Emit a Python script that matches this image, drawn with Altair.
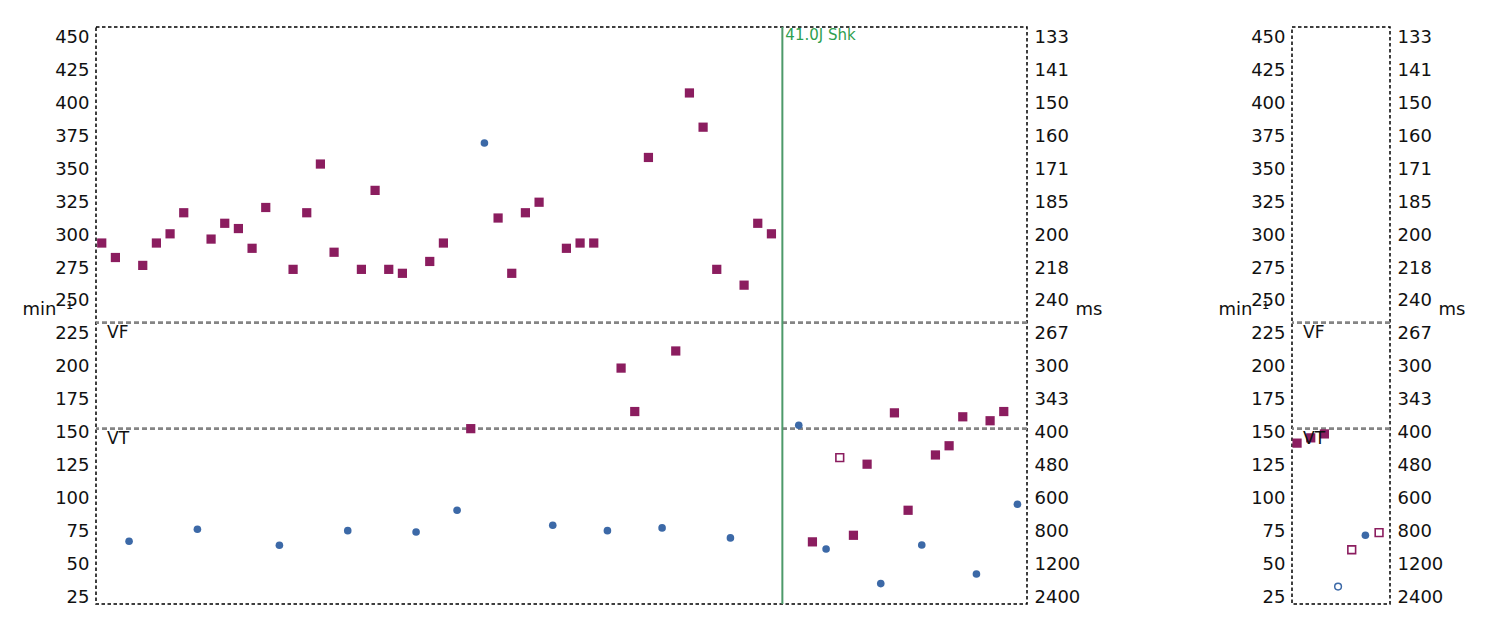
import altair as alt
import pandas as pd

FONT = "DejaVu Sans"
PURPLE = "#8b1d5f"
BLUE = "#3c69a7"
GRAY = "#858585"

rate_ticks = list(range(25, 451, 25))
y_domain = [19.8, 458.1]

# thresholds
thr_names = ["VF", "VT"]
thr_rates = [233.5, 153.0]

# shock
shock_idx = 49.8
shock_label = "41.0J Shk"

# ---- left panel (episode) ----
L_sq_idx = [0, 1, 3, 4, 5, 6, 8, 9, 10, 11, 12, 14, 15, 16, 17, 19, 20, 21, 22, 24, 25,
            27, 29, 30, 31, 32, 34, 35, 36, 38, 39, 40, 42, 43, 44, 45, 47, 48, 49,
            52, 55, 56, 58, 59, 61, 62, 63, 65, 66]
L_sq_rate = [294, 283, 277, 294, 301, 317, 297, 309, 305, 290, 321, 274, 317, 354, 287, 274, 334, 274, 271, 280, 294,
             153, 313, 271, 317, 325, 290, 294, 294, 199, 166, 359, 212, 408, 382, 274, 262, 309, 301,
             67, 72, 126, 165, 91, 133, 140, 162, 159, 166]
L_ci_idx = [2, 7, 13, 18, 23, 26, 28, 33, 37, 41, 46, 51, 53, 57, 60, 64, 67]
L_ci_rate = [67.5, 76.6, 64.4, 75.5, 74.5, 91, 370, 79.6, 75.5, 77.6, 70, 155.6, 61.6, 35.3, 64.6, 42.6, 95.6]
L_osq_idx = [54]
L_osq_rate = [131]
L_oci_idx = []
L_oci_rate = []

# ---- right panel ----
R_sq_idx = [0, 1, 2]
R_sq_rate = [142, 146, 149]
R_ci_idx = [5]
R_ci_rate = [72]
R_osq_idx = [4, 6]
R_osq_rate = [61, 74]
R_oci_idx = [3]
R_oci_rate = [33]

yscale = alt.Scale(domain=y_domain, nice=False, zero=False)

axis_common = dict(values=rate_ticks, grid=False, ticks=False, tickSize=0, domain=False,
                   labelPadding=7, labelFont=FONT, labelFontSize=18, labelColor="#111111",
                   titleFont=FONT, titleFontSize=18, titleFontWeight="normal", titleColor="#111111",
                   titleAngle=0, titleBaseline="middle", titleAlign="left", titleY=282)


def df(idx, rate):
    return pd.DataFrame({"idx": idx, "rate": rate})


def panel(sq, ci, osq, oci, width, xdom, shock=None):
    xs = alt.Scale(domain=xdom, nice=False, zero=False)
    X = alt.X("idx:Q", scale=xs, axis=None)
    Ynone = alt.Y("rate:Q", scale=yscale, axis=None)
    thr = pd.DataFrame({"name": thr_names, "rate": thr_rates})
    layers = []
    layers.append(alt.Chart(thr).mark_rule(color=GRAY, strokeWidth=2.6, strokeDash=[5, 3]).encode(
        y=Ynone))
    if shock is not None:
        sdf = pd.DataFrame({"idx": [shock], "label": [shock_label]})
        layers.append(alt.Chart(sdf).mark_rule(color="#4d9a6a", strokeWidth=2).encode(x=X))
        layers.append(alt.Chart(sdf).mark_text(color="#2ea04f", font=FONT, fontSize=15, align="left",
                                               baseline="top", dx=3, dy=1).encode(
            x=X, y=alt.value(0), text="label:N"))
    layers.append(alt.Chart(df(*sq)).mark_square(filled=True, size=85, color=PURPLE, opacity=1).encode(
        x=X, y=alt.Y("rate:Q", scale=yscale,
                     axis=alt.Axis(orient="left", title="min⁻¹", titleX=-74, **axis_common))))
    layers.append(alt.Chart(df(*ci)).mark_circle(size=58, color=BLUE, opacity=1).encode(
        x=X, y=alt.Y("rate:Q", scale=yscale,
                     axis=alt.Axis(orient="right", title="ms", titleX=48,
                                   labelExpr="format(round(60000/datum.value), 'd')", **axis_common))))
    if len(osq[0]):
        layers.append(alt.Chart(df(*osq)).mark_square(filled=False, size=60, color=PURPLE, strokeWidth=1.6,
                                                      fill="white", opacity=1).encode(x=X, y=Ynone))
    if len(oci[0]):
        layers.append(alt.Chart(df(*oci)).mark_point(shape="circle", filled=False, size=45, color=BLUE,
                                                     strokeWidth=1.5, opacity=1).encode(x=X, y=Ynone))
    layers.append(alt.Chart(thr).mark_text(font=FONT, fontSize=17, color="#111111", align="left",
                                           baseline="middle", dy=10).encode(
        x=alt.value(11), y=Ynone, text="name:N"))
    return alt.layer(*layers).resolve_axis(y="independent").properties(width=width, height=577)


left = panel((L_sq_idx, L_sq_rate), (L_ci_idx, L_ci_rate), (L_osq_idx, L_osq_rate), (L_oci_idx, L_oci_rate),
             931, [-0.42, 67.7], shock=shock_idx)
right = panel((R_sq_idx, R_sq_rate), (R_ci_idx, R_ci_rate), (R_osq_idx, R_osq_rate), (R_oci_idx, R_oci_rate),
              98, [-0.37, 6.8])

chart = alt.hconcat(left, right, spacing=114).properties(
    padding={"left": 13, "top": 17, "right": 5, "bottom": 5},
    background="white",
).configure_view(stroke="black", strokeDash=[3.5, 2.5], strokeWidth=1.5)

chart.save("out.html", embed_options={"renderer": "svg", "actions": False})
